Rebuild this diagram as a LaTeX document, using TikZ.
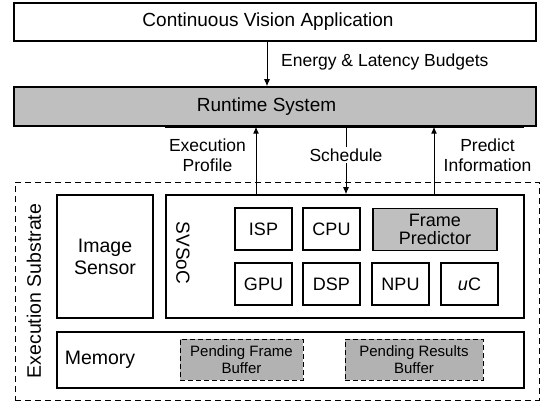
\documentclass[tikz,border=0pt]{standalone}
\usepackage{fontspec}
\setmainfont{Liberation Sans}
\usetikzlibrary{arrows.meta}
\begin{document}
\begin{tikzpicture}[x=1pt,y=-1pt,
  bigbox/.style={draw, line width=1.5pt, inner sep=0pt, font=\fontsize{19}{22}\selectfont},
  unit/.style={draw, line width=1.1pt, inner sep=0pt, minimum width=57pt, minimum height=42pt, font=\fontsize{18}{18}\selectfont, align=center},
  graybox/.style={fill=black!25},
  bufbox/.style={draw, dashed, dash pattern=on 5pt off 3pt, line width=0.9pt, fill=black!30, inner sep=0pt, minimum height=41pt, font=\fontsize{15}{16.5}\selectfont, align=center},
  lbl/.style={font=\fontsize{17.5}{20}\selectfont, align=center, inner sep=1pt},
  arr/.style={line width=1pt, -{Latex[length=7pt,width=6pt]}}]
\useasboundingbox (0,0) rectangle (542,404);
% top
\node[bigbox, minimum width=522pt, minimum height=38pt] (app) at (275,22) {\hspace*{-14pt}Continuous Vision Application};
\node[bigbox, graybox, minimum width=522pt, minimum height=39pt] (runtime) at (275,106.5) {\hspace*{-17pt}Runtime System};
\draw[line width=1.6pt] (165,127.3) -- (524,127.3);
% substrate
\node[draw, dashed, dash pattern=on 6pt off 4pt, line width=0.8pt, minimum width=524pt, minimum height=218pt, inner sep=0pt] (sub) at (277,291) {};
\node[rotate=90, font=\fontsize{19.5}{22}\selectfont] (sublbl) at (34,291) {Execution Substrate};
\node[bigbox, minimum width=96pt, minimum height=123pt, align=center, font=\fontsize{19.5}{22}\selectfont] (sensor) at (105,256.5) {Image\\Sensor};
\node[bigbox, minimum width=358pt, minimum height=123pt] (svsoc) at (345,256.5) {};
\node[rotate=-90, font=\fontsize{19}{22}\selectfont] (svlbl) at (183,253) {SVSoC};
\node[unit] (isp) at (263.5,229) {ISP};
\node[unit] (cpu) at (331.5,229) {CPU};
\node[unit, graybox, minimum width=124pt] (fp) at (435,229.5) {Frame\\Predictor};
\node[unit] (gpu) at (263.5,284) {GPU};
\node[unit] (dsp) at (331.5,284) {DSP};
\node[unit] (npu) at (400.5,284) {NPU};
\node[unit] (uc) at (469.5,284) {\textit{u}C};
\node[bigbox, minimum width=467pt, minimum height=56pt] (mem) at (290.5,360) {};
\node[font=\fontsize{19.5}{22}\selectfont] (memlbl) at (100,360) {Memory};
\node[bufbox, minimum width=123pt] (pfb) at (241.5,359.5) {Pending Frame\\Buffer};
\node[bufbox, minimum width=138pt] (prb) at (414,359.5) {Pending Results\\Buffer};
% connectors
\coordinate (ea) at (267,0);
\coordinate (ep) at (256,0);
\coordinate (sc) at (346,0);
\coordinate (pi) at (434,0);
\draw[arr] (app.south -| ea) -- (runtime.north -| ea);
\node[lbl, anchor=west] (energy) at (280,62) {Energy \& Latency Budgets};
\draw[arr] (svsoc.north -| ep) -- (runtime.south -| ep);
\node[lbl] (eplbl) at (207.5,155) {Execution\\Profile};
\draw[arr] (runtime.south -| sc) -- (svsoc.north -| sc);
\node[lbl, fill=white, inner sep=2pt] (sclbl) at (346,155) {Schedule};
\draw[arr] (svsoc.north -| pi) -- (runtime.south -| pi);
\node[lbl] (pilbl) at (487.5,155) {Predict\\Information};
\end{tikzpicture}
\end{document}
